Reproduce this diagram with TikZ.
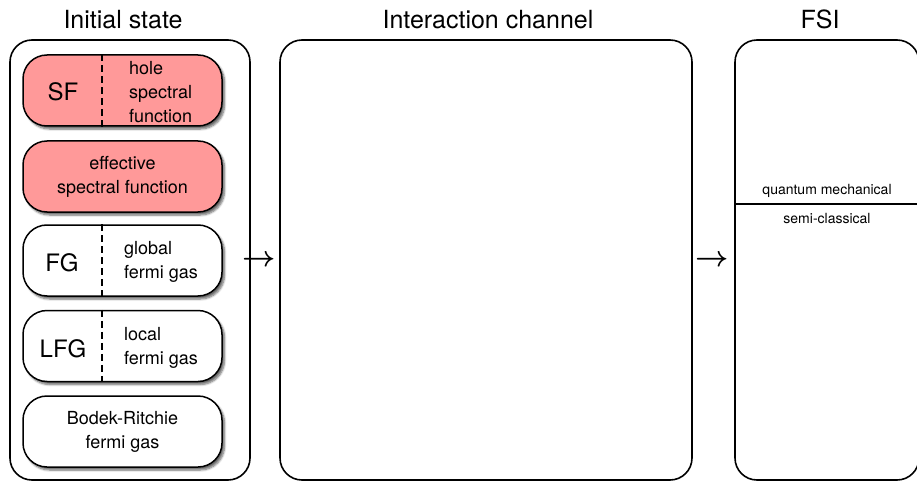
\documentclass[tikz,border=0pt]{standalone}
\usepackage{fontspec}
\setmainfont{TeX Gyre Heros}
\usetikzlibrary{shadows.blur}
\definecolor{sfpink}{RGB}{255,153,153}
\tikzset{
  stage/.style={draw, line width=1.6pt, rounded corners=22pt, inner sep=0pt, minimum height=440pt},
  model/.style={draw, line width=1.5pt, rounded corners=24pt, minimum width=199pt, minimum height=71pt,
    inner sep=0pt, fill=white, align=center, font=\fontsize{18}{24}\selectfont,
    blur shadow={shadow xshift=2.5pt, shadow yshift=-3pt, shadow blur steps=6, shadow opacity=60}},
  divider/.style={line width=1.4pt, dash pattern=on 7pt off 4pt},
  heading/.style={anchor=base, font=\fontsize{25}{30}\selectfont},
  abbrev/.style={font=\fontsize{24}{28}\selectfont},
  descr/.style={anchor=west, inner sep=0pt, align=left, font=\fontsize{18}{24}\selectfont},
  fsilabel/.style={anchor=base, inner sep=0pt, font=\fontsize{14}{16}\selectfont},
  flow/.style={scale=2.9, font=\boldmath},
}
\begin{document}
\begin{tikzpicture}[x=1pt,y=-1pt]
\useasboundingbox (0,0) rectangle (917,481);
% the three stages
\node[stage, minimum width=240pt] (init) at (130,260) {};
\node[stage, minimum width=412pt] (inter) at (486,260) {};
\node[stage, minimum width=184pt] (fsi) at (827,260) {};
\node[heading] (initt) at (123,29) {Initial state};
\node[heading] (intert) at (488,29) {Interaction channel};
\node[heading] (fsit) at (820,29) {FSI};
% nuclear models
\node[model, fill=sfpink] (sf) at (122.5,90.5) {};
\node[model, fill=sfpink] (esf) at (122.5,176.5) {effective\\spectral function};
\node[model] (fg) at (122.5,260.5) {};
\node[model] (lfg) at (122.5,346) {};
\node[model] (br) at (122.5,431.5) {Bodek-Ritchie\\fermi gas};
\node[abbrev] (sft) at (63,91.5) {SF};
\node[abbrev] (fgt) at (62,262.5) {FG};
\node[abbrev] (lfgt) at (63,348.5) {LFG};
\node[descr] (sfd) at (129,92) {hole\\spectral\\function};
\node[descr] (fgd) at (124,262) {global\\fermi gas};
\node[descr] (lfgd) at (124,347.5) {local\\fermi gas};
\coordinate (divx) at (102,0);
\foreach \m in {sf,fg,lfg}
  \draw[divider] (\m.north -| divx) -- (\m.south -| divx);
% arrows between the stages
\node[flow] (arr1) at (259,261) {$\rightarrow$};
\node[flow] (arr2) at (712,261) {$\rightarrow$};
% FSI split
\coordinate (splity) at (0,204);
\draw[line width=1.4pt] (fsi.west |- splity) -- (fsi.east |- splity);
\node[fsilabel] (qm) at (827,194) {quantum mechanical};
\node[fsilabel] (sc) at (827,223) {semi-classical};
\end{tikzpicture}
\end{document}
